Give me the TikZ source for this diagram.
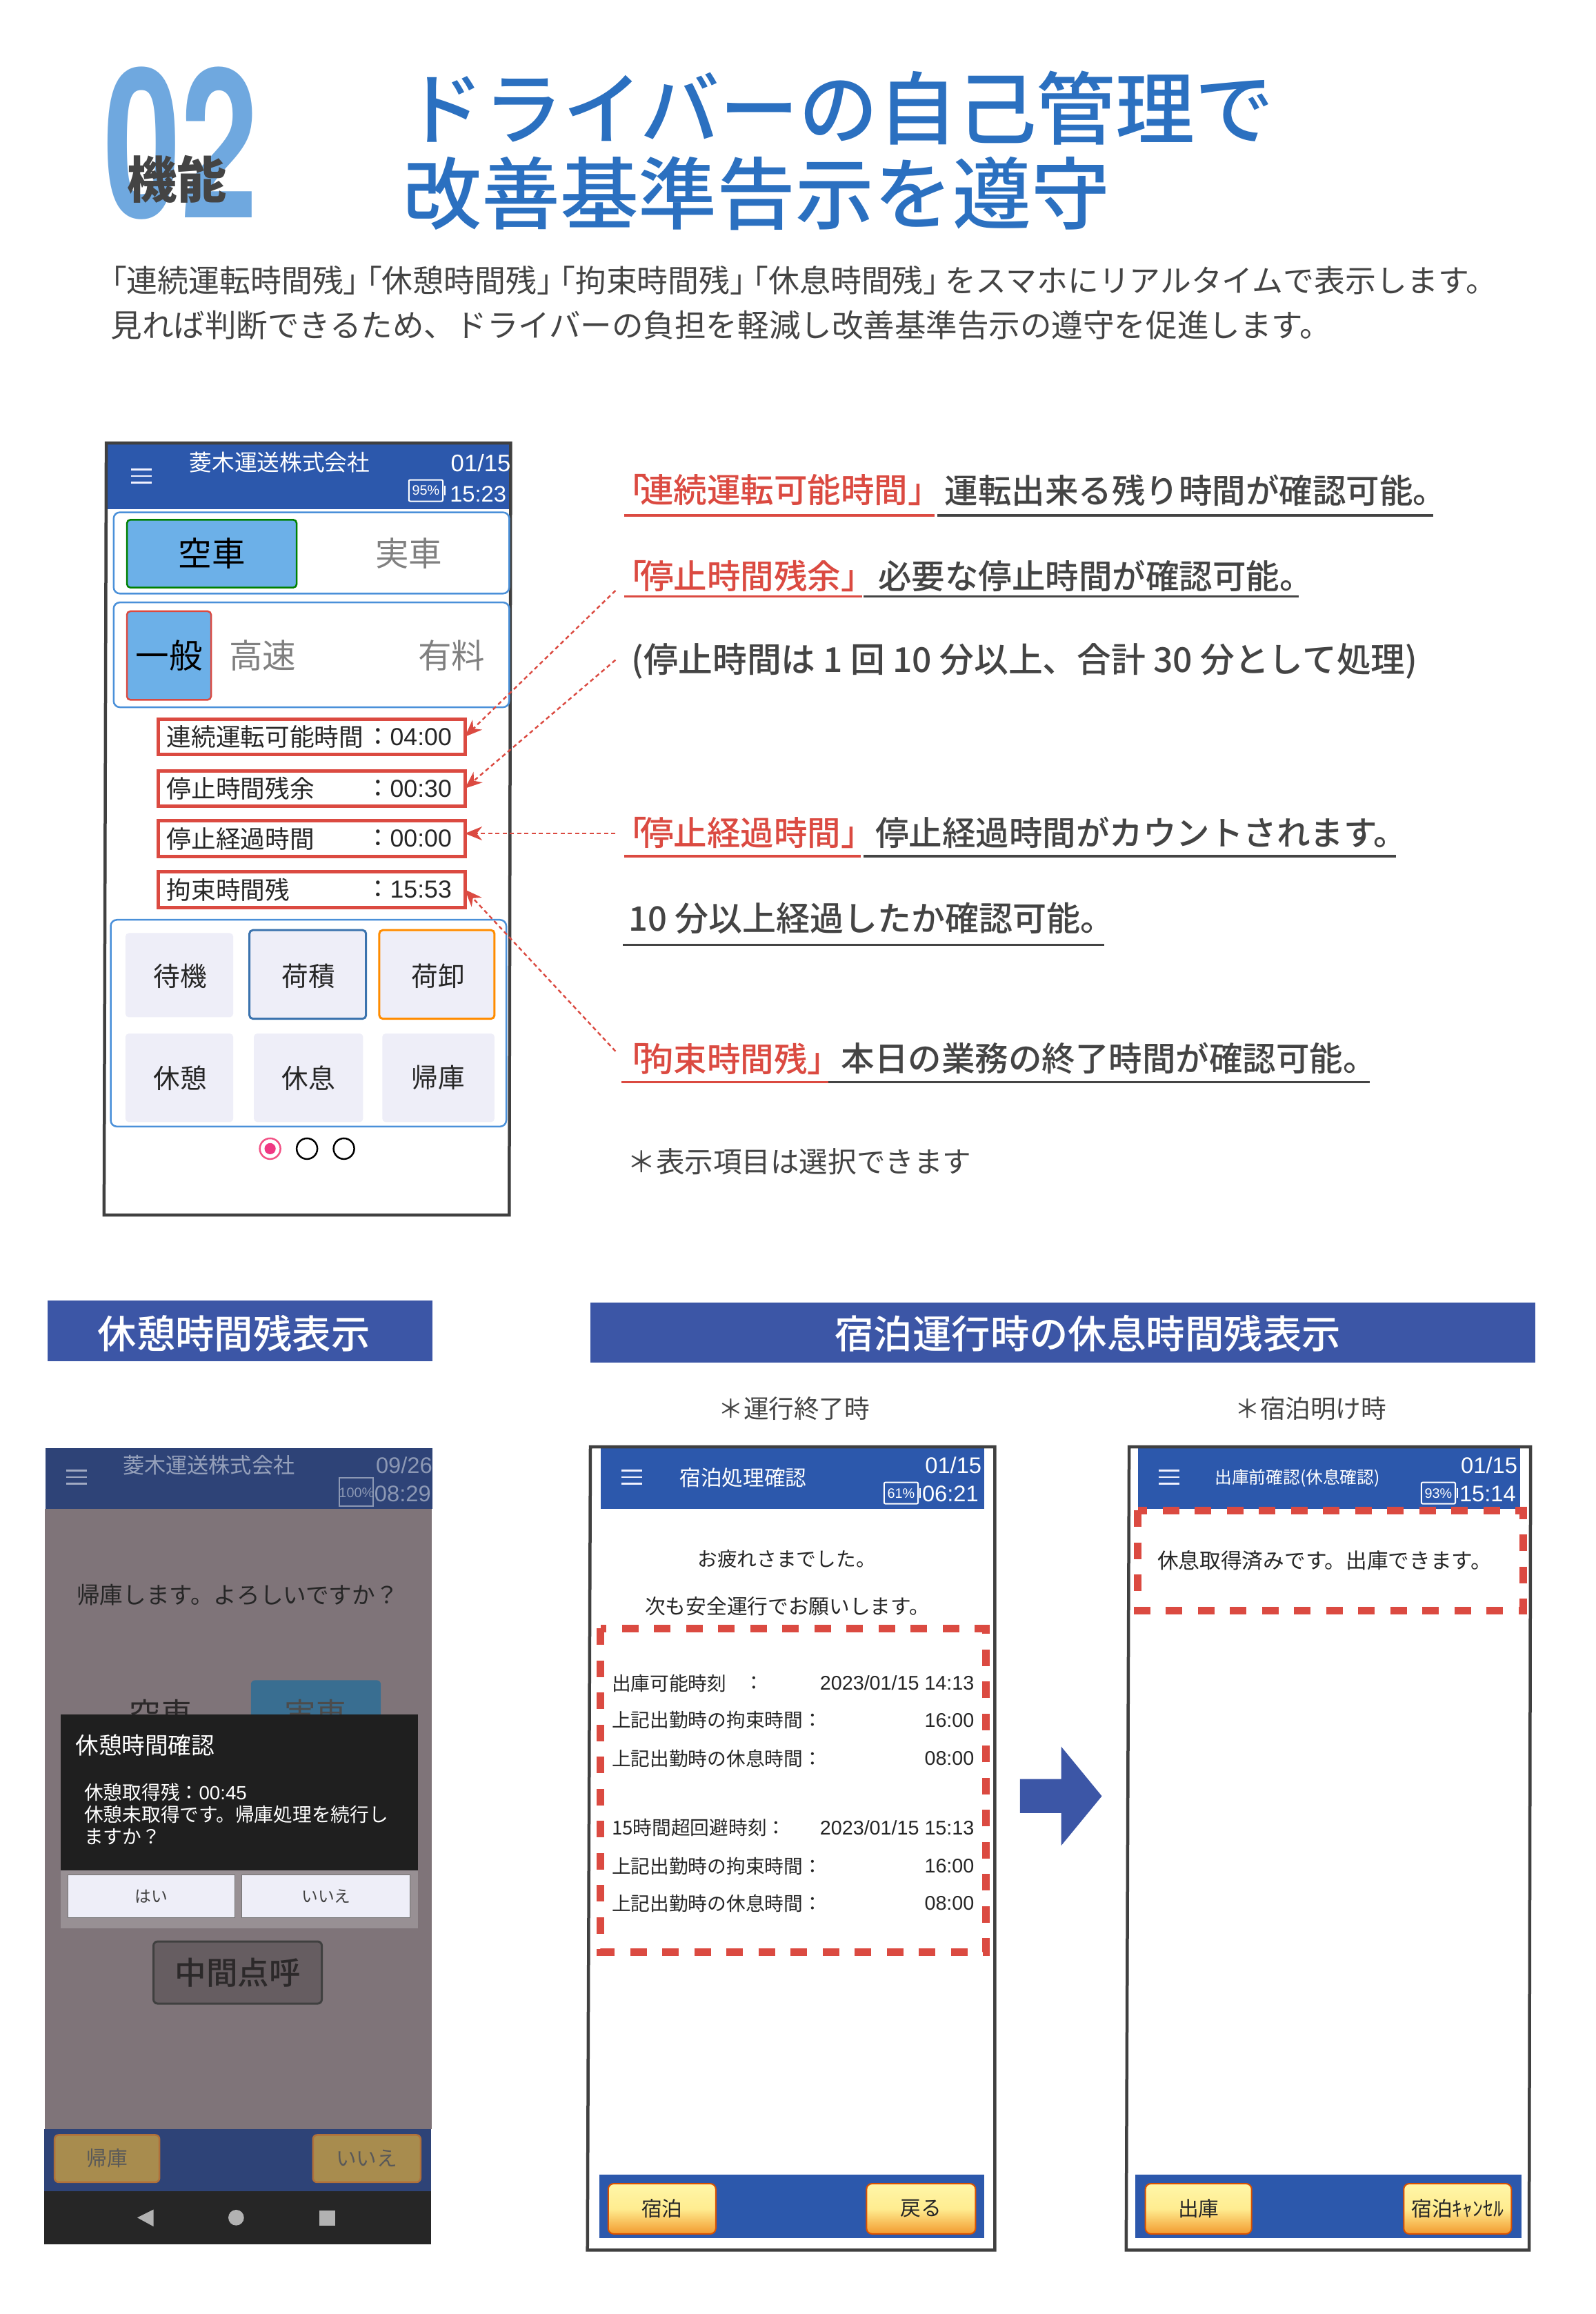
\documentclass[tikz,border=0pt]{standalone}
\usepackage{fontspec}
\setmainfont{Noto Sans CJK JP}
\newfontfamily\med{Noto Sans CJK JP Medium}
\newfontfamily\lat{Liberation Sans}
\newfontfamily\hev{TeX Gyre Heros}
\newcommand{\fs}[1]{\fontsize{\fpeval{#1*.99}}{\fpeval{#1*.99}}\selectfont}
\usetikzlibrary{arrows.meta}
\definecolor{hdr}{HTML}{2C58AC}
\definecolor{hdrd}{HTML}{2E4377}
\definecolor{band}{HTML}{3C56A6}
\definecolor{ttl}{HTML}{2B70C0}
\definecolor{lblue}{HTML}{6FA8DF}
\definecolor{rd}{HTML}{DB4A41}
\definecolor{bodyt}{HTML}{444444}
\definecolor{panel}{HTML}{4A90D9}
\definecolor{btn}{HTML}{6CB0E8}
\definecolor{soft}{HTML}{EEEEF8}
\definecolor{mauve}{HTML}{7F7479}
\definecolor{ytop}{HTML}{FFF6A8}
\definecolor{ymid}{HTML}{FFEC90}
\definecolor{ybot}{HTML}{F29A2E}
\definecolor{gold}{HTML}{A88C4E}
\definecolor{goldb}{HTML}{B0703A}
\tikzset{
 txt/.style={inner sep=0pt,outer sep=0pt,text=bodyt},
 wtxt/.style={inner sep=0pt,outer sep=0pt,text=white},
 panelbox/.style={draw=panel,line width=2.5pt,rounded corners=9pt},
 softbtn/.style={fill=soft,rounded corners=5pt},
 databox/.style={draw=rd,line width=5pt,inner sep=0pt,outer sep=0pt},
 ptr/.style={draw=rd,line width=2.4pt,dash pattern=on 6pt off 4.5pt,-{Stealth[length=25pt,width=20pt,inset=8pt,fill=rd]}},
 redul/.style={draw=rd,line width=3.5pt},
 darkul/.style={draw=bodyt,line width=3.5pt},
 frame/.style={draw=black!75,line width=4.5pt},
 reddash/.style={draw=rd,line width=11pt,dash pattern=on 24pt off 22.5pt},
 yellowbtn/.style={draw=orange!75!red!85!black,line width=2pt,rounded corners=8pt,top color=ytop,bottom color=ybot,middle color=ymid},
 goldbtn/.style={fill=gold,draw=goldb,line width=2.5pt,rounded corners=6pt,inner sep=0pt,text=black!65},
 banner/.style={fill=band}
}
\newcommand{\burger}[3]{%
 \draw[#3,line width=2.6pt] (#1,#2) -- ++(14,0) (#1,#2+4.5) -- ++(14,0) (#1,#2+9) -- ++(14,0);}
\newcommand{\batt}[4]{% x y text colour
 \draw[#4,line width=2pt,rounded corners=2pt] (#1,#2) rectangle ++(23,14.5);
 \draw[#4,line width=2pt] (#1+24.5,#2+4) -- ++(0,6.5);
 \node[inner sep=0pt,text=#4] at (#1+11.5,#2+7.3) {\lat\fs{20}#3};}
\begin{document}
\begin{tikzpicture}[x=2.14pt,y=-2.14pt]
\useasboundingbox[fill=white] (0,0) rectangle (1080.84,1567.29);
% ---------- header
\node[inner sep=0pt,text=lblue,xscale=.665,anchor=center] (num) at (122.5,97) {\hev\fs{305}\bfseries 02};
\node[txt,text=bodyt,anchor=center] (kino) at (120,121.5) {\fs{73}\bfseries 機能};
\node[inner sep=0pt,text=ttl,anchor=west] (t1) at (274,73) {\med\fs{116}ドライバーの自己管理で};
\node[inner sep=0pt,text=ttl,anchor=west] (t2) at (273,131) {\med\fs{115}改善基準告示を遵守};
\node[txt,anchor=west] (b1) at (65,190) {\fs{45.3}「連続運転時間残」\hspace{-.75em}「休憩時間残」\hspace{-.75em}「拘束時間残」\hspace{-.75em}「休息時間残」\hspace{-.3em}をスマホにリアルタイムで表示します。};
\node[txt,anchor=west] (b2) at (75,220) {\fs{46}見れば判断できるため、ドライバーの負担を軽減し改善基準告示の遵守を促進します。};
% ---------- phone 1
\fill[hdr] (73,301) rectangle (346,345);
\draw[frame] (72,300) -- (346,300) -- (345,823) -- (70.5,823) -- cycle;
\burger{89}{318}{white!95!blue}
\node[wtxt,anchor=center] (p1t) at (189.5,313) {\fs{33}菱木運送株式会社};
\node[wtxt,anchor=east] (p1d) at (346,313.5) {\lat\fs{35}01/15};
\batt{277}{325}{95\%}{white}
\node[wtxt,anchor=east] (p1c) at (343,334.5) {\lat\fs{33}15:23};
\draw[panelbox] (77,347) rectangle (345,402);
\node[fill=btn,draw=green!50!black,line width=2.5pt,rounded corners=5pt,minimum width=246pt,minimum height=98.4pt,inner sep=0pt,text=black] (kusha) at (143.5,375) {\fs{49}空車};
\node[txt,text=black!50] (jisha) at (277,375) {\fs{49}実車};
\draw[panelbox] (77,408) rectangle (345,479);
\node[fill=btn,draw=rd,line width=2.5pt,rounded corners=5pt,minimum width=122pt,minimum height=128.4pt,inner sep=0pt,text=black] (ippan) at (114.5,444) {\fs{49}一般};
\node[txt,text=black!50] (kosoku) at (178,444) {\fs{49}高速};
\node[txt,text=black!50] (yuryo) at (306,444) {\fs{49}有料};
\node[databox,minimum width=445pt,minimum height=51.4pt] (d1) at (211,499) {};
\node[databox,minimum width=445pt,minimum height=51.4pt] (d2) at (211,534) {};
\node[databox,minimum width=445pt,minimum height=51.4pt] (d3) at (211,568) {};
\node[databox,minimum width=445pt,minimum height=51.4pt] (d4) at (211,602.5) {};
\foreach \yy/\lab/\val in {499/連続運転可能時間/04:00,534/停止時間残余/00:30,568/停止経過時間/00:00,602.5/拘束時間残/15:53}{
 \node[txt,text=black!85,anchor=west] at (113,\yy) {\fs{36}\lab};
 \node[txt,text=black!85] at (256,\yy) {\fs{36}：};
 \node[txt,text=black!85,anchor=east] at (306,\yy) {\lat\fs{36}\val};
}
\draw[panelbox] (75,623) rectangle (343,763);
\path[softbtn] (85,632) rectangle (158,689);
\path[softbtn] (169,631) rectangle (248,690);
\path[softbtn] (257,631) rectangle (335,690);
\draw[draw=panel!80!black,line width=3pt,rounded corners=5pt] (169,630) rectangle (248,690);
\draw[draw=orange!90!yellow,line width=3pt,rounded corners=5pt] (257,630) rectangle (335,690);
\path[softbtn] (85,700) rectangle (158,760);
\path[softbtn] (172,700) rectangle (246,760);
\path[softbtn] (259,700) rectangle (335,760);
\foreach \xx/\yy/\lab in {122/661/待機,209/661/荷積,297/661/荷卸,122/730/休憩,209/730/休息,297/730/帰庫}{
 \node[txt,text=black!85] at (\xx,\yy) {\fs{39}\lab};
}
\draw[magenta!60!red!70,line width=2.5pt] (183,778) circle (7);
\fill[magenta!70!red!80] (183,778) circle (3.8);
\draw[black,line width=2.5pt] (208,778) circle (7);
\draw[black,line width=2.5pt] (233,778) circle (7);
% ---------- annotations
\coordinate (a1) at (417,400);
\coordinate (a2) at (417,447);
\coordinate (a3) at (417,564.5);
\coordinate (a4) at (417,712);
\draw[ptr] (a1) -- (d1.east);
\draw[ptr] (a2) -- (d2.east);
\draw[ptr] (a3) -- (d3.east |- a3);
\draw[ptr] (a4) -- (d4.east);
\newcommand{\redlab}[1]{\med\fs{49}「\hspace{-.2em}#1}
\node[inner sep=0pt,text=rd,anchor=west] (l1) at (415.5,332) {\redlab{連続運転可能時間」}};
\node[txt,anchor=west] (l1b) at (640,332) {\med\fs{49}運転出来る残り時間が確認可能。};
\draw[redul] (423,349) -- (633,349); \draw[darkul] (635,349) -- (971,349);
\node[inner sep=0pt,text=rd,anchor=west] (l2) at (415.5,390) {\redlab{停止時間残余」}};
\node[txt,anchor=west] (l2b) at (595,390) {\med\fs{49}必要な停止時間が確認可能。};
\draw[redul] (423,404) -- (584,404); \draw[darkul] (585,404) -- (880,404);
\node[txt,anchor=west] (l2c) at (428,448) {\med\fs{50.3}(停止時間は 1 回 10 分以上、合計 30 分として処理)};
\node[inner sep=0pt,text=rd,anchor=west] (l3) at (415.5,564) {\redlab{停止経過時間」}};
\node[txt,anchor=west] (l3b) at (593,564) {\med\fs{49}停止経過時間がカウントされます。};
\draw[redul] (423,580) -- (583,580); \draw[darkul] (585,580) -- (946,580);
\node[txt,anchor=west] (l3c) at (426,622) {\med\fs{49.5}10 分以上経過したか確認可能。};
\draw[darkul] (422,640) -- (748,640);
\node[inner sep=0pt,text=rd,anchor=west] (l4) at (415.5,717) {\redlab{拘束時間残」}};
\node[txt,anchor=west] (l4b) at (570,717) {\med\fs{49}本日の業務の終了時間が確認可能。};
\draw[redul] (421,733) -- (561,733); \draw[darkul] (561,733) -- (928,733);
\node[txt,anchor=west] (note) at (425,787) {\fs{42}＊表示項目は選択できます};
% ---------- banners
\node[banner,minimum width=558.5pt,minimum height=87.7pt,inner sep=0pt] (s1) at (162.5,901.5) {};
\node[inner sep=0pt,text=white] (s1t) at (158.5,903) {\med\fs{57}休憩時間残表示};
\node[banner,minimum width=1369.6pt,minimum height=87.7pt,inner sep=0pt] (s2) at (720,902.5) {};
\node[inner sep=0pt,text=white] (s2t) at (737,903) {\med\fs{57}宿泊運行時の休息時間残表示};
\node[txt] (n1) at (538,954) {\fs{37}＊運行終了時};
\node[txt] (n2) at (888,954) {\fs{37}＊宿泊明け時};
% ---------- phone A
\fill[mauve] (30.5,1022) rectangle (292.5,1442);
\fill[hdrd] (31,981) rectangle (293,1022);
\burger{45}{996}{white!55!hdrd}
\node[inner sep=0pt,text=white!50!hdrd] (pAt) at (141.5,992.5) {\fs{31.5}菱木運送株式会社};
\node[inner sep=0pt,text=white!45!hdrd,anchor=east] (pAd) at (293,992.5) {\lat\fs{33}09/26};
\node[inner sep=0pt,text=white!45!hdrd,anchor=east] (pAc) at (292,1012) {\lat\fs{33}08:29};
\draw[white!45!hdrd,line width=2pt] (230,1001) rectangle (253,1020);
\node[inner sep=0pt,text=white!45!hdrd] (pAb) at (241.5,1011) {\lat\fs{20}100\%};
\node[inner sep=0pt,text=black!85] (pAq) at (161,1080) {\fs{34}帰庫します。よろしいですか？};
\node[inner sep=0pt,text=black!65!mauve] (pAk) at (109,1161) {\fs{46}空車};
\fill[blue!25!teal!55!gray,rounded corners=6pt] (170,1138) rectangle (258,1185);
\node[inner sep=0pt,text=black!70] (pAj) at (214,1161) {\fs{46}実車};
\fill[black!88] (41,1161) rectangle (283,1267);
\fill[white!20!mauve] (41,1267) rectangle (283,1306);
\node[inner sep=0pt,text=white,anchor=west] (dt) at (51,1182) {\fs{34}休憩時間確認};
\node[inner sep=0pt,text=white,anchor=west] (d1t) at (57,1214) {\fs{28}休憩取得残：\lat 00:45};
\node[inner sep=0pt,text=white,anchor=west] (d2t) at (57,1229) {\fs{28}休憩未取得です。帰庫処理を続行し};
\node[inner sep=0pt,text=white,anchor=west] (d3t) at (57,1244) {\fs{28}ますか？};
\node[fill=soft,draw=black!55,line width=1pt,minimum width=242pt,minimum height=62pt,inner sep=0pt,text=black!75] (yes) at (102.5,1284.5) {\fs{24}はい};
\node[fill=soft,draw=black!55,line width=1pt,minimum width=244pt,minimum height=62pt,inner sep=0pt,text=black!75] (no) at (221,1284.5) {\fs{24}いいえ};
\node[fill=black!20!mauve,draw=black!75,line width=3pt,rounded corners=6pt,minimum width=244pt,minimum height=90pt,inner sep=0pt,text=black!65!mauve] (mid) at (161,1336) {\med\fs{46}中間点呼};
\fill[hdrd] (30,1442) rectangle (292,1484);
\fill[black!85] (30,1484) rectangle (292,1520);
\node[goldbtn,minimum width=152pt,minimum height=68.5pt] (pAl) at (72.5,1462) {\fs{30}帰庫};
\node[goldbtn,minimum width=156pt,minimum height=68.5pt] (pAr) at (248.5,1462) {\fs{30}いいえ};
\fill[black!30] (104,1496.5) -- (104,1508) -- (93,1502) -- cycle;
\fill[black!30] (160,1502) circle (5.3);
\fill[black!30] (216.5,1497) rectangle (227,1507.5);
% ---------- phone B
\fill[hdr] (407,981) rectangle (667,1022);
\draw[frame] (400,980) -- (674,980) -- (674,1524) -- (398,1524) -- cycle;
\burger{421}{996}{white!95!blue}
\node[wtxt] (pBt) at (503.5,1001) {\fs{31}宿泊処理確認};
\node[wtxt,anchor=east] (pBd) at (665,992.5) {\lat\fs{33}01/15};
\batt{599}{1004}{61\%}{white}
\node[wtxt,anchor=east] (pBc) at (663,1012) {\lat\fs{33}06:21};
\node[txt,text=black!85] (pB1) at (533,1056) {\fs{29}お疲れさまでした。};
\node[txt,text=black!85] (pB2) at (533.5,1088) {\fs{30}次も安全運行でお願いします。};
\draw[reddash] (407,1103) rectangle (668,1322);
\foreach \yy/\lab/\val in {1140/出庫可能時刻/{2023/01/15 14:13},1165/上記出勤時の拘束時間：/16:00,1191/上記出勤時の休息時間：/08:00,1238/15時間超回避時刻：/{2023/01/15 15:13},1264/上記出勤時の拘束時間：/16:00,1289/上記出勤時の休息時間：/08:00}{
 \node[txt,text=black!85,anchor=west] at (414.5,\yy) {\fs{28}\lab};
 \node[txt,text=black!85,anchor=east] at (660,\yy) {\lat\fs{29}\val};
}
\node[txt,text=black!85] (colon) at (511,1140) {\fs{28}：};
\fill[hdr] (406,1473) rectangle (667,1516);
\node[yellowbtn,minimum width=156pt,minimum height=72.8pt,inner sep=0pt,text=black!85] (pBl) at (448.5,1496) {\fs{30}宿泊};
\node[yellowbtn,minimum width=158pt,minimum height=72.8pt,inner sep=0pt,text=black!85] (pBr) at (624,1496) {\fs{30}戻る};
% big arrow
\fill[band] (691,1205) -- (719,1205) -- (719,1183) -- (746.5,1216.5) -- (719,1250) -- (719,1228) -- (691,1228) -- cycle;
% ---------- phone C
\fill[hdr] (771,981) rectangle (1030,1022);
\draw[frame] (765,980) -- (1037,980) -- (1036,1524) -- (763,1524) -- cycle;
\burger{785}{996}{white!95!blue}
\node[wtxt] (pCt) at (879,1001) {\fs{25}出庫前確認(休息確認)};
\node[wtxt,anchor=east] (pCd) at (1028,992.5) {\lat\fs{33}01/15};
\batt{963}{1004}{93\%}{white}
\node[wtxt,anchor=east] (pCc) at (1027,1012) {\lat\fs{33}15:14};
\draw[reddash] (771,1023) rectangle (1032,1091);
\node[txt,text=black!85] (pC1) at (897.5,1057) {\fs{31}休息取得済みです。出庫できます。};
\fill[hdr] (769,1473) rectangle (1031,1516);
\node[yellowbtn,minimum width=154pt,minimum height=72.8pt,inner sep=0pt,text=black!85] (pCl) at (812,1496) {\fs{30}出庫};
\node[yellowbtn,minimum width=156pt,minimum height=72.8pt,inner sep=0pt,text=black!85] (pCr) at (987.5,1496) {\fs{30}宿泊ｷｬﾝｾﾙ};
\end{tikzpicture}
\end{document}
